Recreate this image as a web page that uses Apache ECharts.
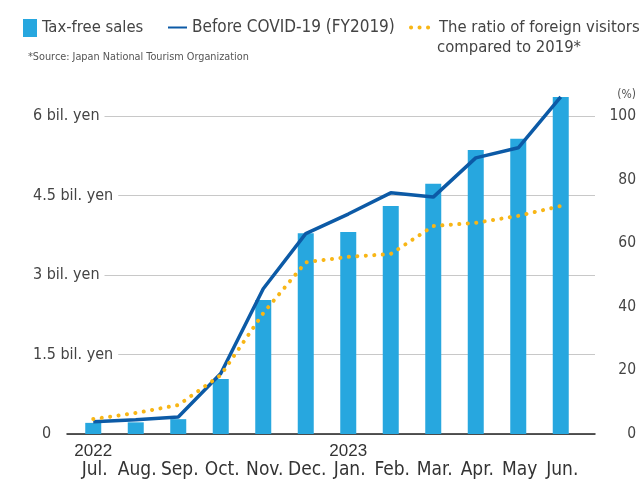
<!DOCTYPE html>
<html>
<head>
<meta charset="utf-8">
<script src="https://cdn.jsdelivr.net/npm/echarts@6/dist/echarts.min.js"></script>
<style>
  html, body { margin: 0; padding: 0; background: #fff; }
  #chart { width: 640px; height: 487px; }
</style>
</head>
<body>
<div id="chart"></div>
<script>
// data
var months = ['Jul.', 'Aug.', 'Sep.', 'Oct.', 'Nov.', 'Dec.', 'Jan.', 'Feb.', 'Mar.', 'Apr.', 'May', 'Jun.'];
var years = ['2022', '', '', '', '', '', '2023', '', '', '', '', ''];
var taxFreeSales = [0.21, 0.22, 0.28, 1.04, 2.53, 3.79, 3.81, 4.3, 4.72, 5.36, 5.57, 6.36];
var beforeCovid = [0.23, 0.27, 0.32, 1.14, 2.74, 3.78, 4.15, 4.55, 4.47, 5.21, 5.4, 6.36];
var visitorRatio = [4.7, 6.6, 9.1, 18.5, 38, 54, 55.7, 56.6, 65.4, 66.4, 68.6, 71.7];
var leftTicks = { min: 0, max: 6, interval: 1.5 };
var rightTicks = { min: 0, max: 100, interval: 20 };

var font = "'DejaVu Sans Condensed', 'Liberation Sans', sans-serif";
var ratioName = 'The ratio of foreign visitors';
var hidden = 'rgba(0,0,0,0)';

var chart = echarts.init(document.getElementById('chart'));

var option = {
  animation: false,
  title: [
    {
      text: '*Source: Japan National Tourism Organization',
      left: 23, top: 47,
      textStyle: { fontFamily: font, fontSize: 10.8, fontWeight: 'normal', color: '#555' }
    },
    {
      text: 'compared to 2019*',
      left: 437, top: 39, padding: 0,
      textStyle: { fontFamily: font, fontSize: 16.5, fontWeight: 'normal', color: '#444' }
    },
    {
      text: '(%)',
      right: 4, top: 89, padding: 0,
      textStyle: { fontFamily: font, fontSize: 12, fontWeight: 'normal', color: '#555' }
    }
  ],
  legend: [
    {
      data: [{ name: 'Tax-free sales', icon: 'rect' }],
      left: 23, top: 19, padding: 0,
      itemWidth: 14, itemHeight: 18,
      textStyle: { fontFamily: font, fontSize: 16.5, color: '#444' }
    },
    {
      data: ['Before COVID-19 (FY2019)'],
      left: 167, top: 19, padding: 0,
      itemWidth: 19, itemHeight: 18,
      itemStyle: { color: hidden, borderColor: hidden, borderWidth: 0 },
      textStyle: { fontFamily: font, fontSize: 17, color: '#444' }
    },
    {
      data: [ratioName],
      left: 409, top: 19, padding: 0,
      itemWidth: 23, itemHeight: 18,
      itemStyle: { color: hidden, borderColor: hidden, borderWidth: 0 },
      lineStyle: { width: 4 },
      textStyle: { fontFamily: font, fontSize: 16.5, color: '#444' }
    }
  ],
  grid: [
    { left: 67, right: 45, top: 116, bottom: 53 },
    { left: 72, right: 58, top: 116, bottom: 53 }
  ],
  xAxis: [
    {
      type: 'value', gridIndex: 0, min: 0, max: 1,
      axisLine: { show: true, lineStyle: { color: '#222', width: 1.5 } },
      axisTick: { show: false }, axisLabel: { show: false }, splitLine: { show: false }
    },
    {
      type: 'category', gridIndex: 1, data: months,
      axisLine: { show: false }, axisTick: { show: false },
      axisLabel: {
        margin: 8,
        interval: 0,
        formatter: function (v, i) {
          return '{y|' + (years[i] || ' ') + '}\n{m|' + v + '}';
        },
        rich: {
          y: { fontFamily: 'Liberation Sans, sans-serif', fontSize: 17, lineHeight: 19, color: '#333', align: 'center' },
          m: { fontFamily: font, fontSize: 19, lineHeight: 19, color: '#333', align: 'center', padding: [0, 0, 0, 3] }
        }
      }
    }
  ],
  yAxis: [
    {
      type: 'value', gridIndex: 0, position: 'left',
      min: leftTicks.min, max: leftTicks.max, interval: leftTicks.interval,
      axisLine: { show: false }, axisTick: { show: false },
      splitLine: { lineStyle: { color: '#c8c8c8', width: 1.2 } },
      axisLabel: {
        align: 'left', margin: 34,
        fontFamily: font, fontSize: 16, color: '#444',
        backgroundColor: '#fff', padding: [0, 5, 0, 0],
        formatter: function (v) { return v === 0 ? '{z|0}' : v + ' bil. yen'; },
        rich: { z: { fontFamily: font, fontSize: 16, color: '#444', padding: [0, 0, 0, 9] } }
      }
    },
    {
      type: 'value', gridIndex: 0, position: 'right',
      min: rightTicks.min, max: rightTicks.max, interval: rightTicks.interval,
      axisLine: { show: false }, axisTick: { show: false }, splitLine: { show: false },
      axisLabel: { align: 'right', margin: 41, fontFamily: font, fontSize: 15.5, color: '#444' }
    },
    { type: 'value', gridIndex: 1, min: leftTicks.min, max: leftTicks.max, show: false },
    { type: 'value', gridIndex: 1, min: rightTicks.min, max: rightTicks.max, show: false }
  ],
  series: [
    {
      name: 'Tax-free sales', type: 'bar',
      xAxisIndex: 1, yAxisIndex: 2,
      data: taxFreeSales, barWidth: 16, clip: false,
      itemStyle: { color: '#27a7df' }
    },
    {
      name: 'Before COVID-19 (FY2019)', type: 'line',
      xAxisIndex: 1, yAxisIndex: 2,
      data: beforeCovid, clip: false,
      symbol: 'none', showSymbol: false,
      itemStyle: { color: '#0c5aa6' },
      lineStyle: { color: '#0c5aa6', width: 3.5 }
    },
    {
      name: ratioName, type: 'line',
      xAxisIndex: 1, yAxisIndex: 3,
      data: visitorRatio, clip: false,
      symbol: 'none', showSymbol: false,
      itemStyle: { color: '#f8b616' },
      lineStyle: { color: '#f8b616', width: 4, type: [0.1, 8.4], cap: 'round' },
      z: 3
    }
  ]
};

chart.setOption(option);
</script>
</body>
</html>
